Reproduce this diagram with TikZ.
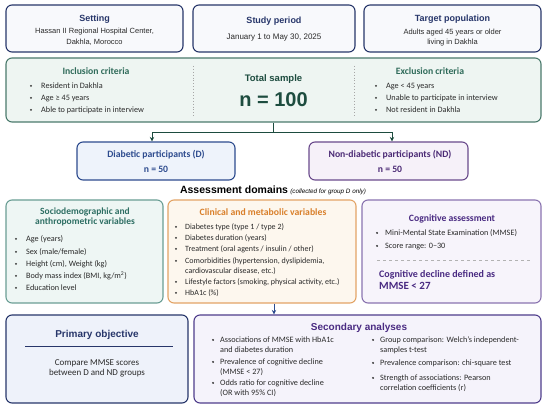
\documentclass[tikz,border=0pt]{standalone}
\usepackage{fontspec}
\setmainfont{Carlito}
\newfontfamily\headfont{Liberation Sans}
\usetikzlibrary{arrows.meta,positioning}

\definecolor{navy}{HTML}{27366A}
\definecolor{topfill}{HTML}{F8F9FC}
\definecolor{gline}{HTML}{4A7A6C}
\definecolor{gfill}{HTML}{EEF5F2}
\definecolor{gtext}{HTML}{2F6B5A}
\definecolor{gdark}{HTML}{1D4C3F}
\definecolor{dline}{HTML}{2D4B8E}
\definecolor{dfill}{HTML}{EEF3FB}
\definecolor{ndline}{HTML}{6A4A8C}
\definecolor{ndfill}{HTML}{F6F1F9}
\definecolor{ndtext}{HTML}{4B2A75}
\definecolor{sline}{HTML}{6A9E94}
\definecolor{sfill}{HTML}{EEF6F4}
\definecolor{stext}{HTML}{2D6E63}
\definecolor{cline}{HTML}{E3A466}
\definecolor{cfill}{HTML}{FDF7EE}
\definecolor{ctext}{HTML}{D97F2A}
\definecolor{kline}{HTML}{8A74B0}
\definecolor{kfill}{HTML}{F7F4FB}
\definecolor{ktext}{HTML}{4A2B82}
\definecolor{pfill}{HTML}{EEF2FA}
\definecolor{secline}{HTML}{4F3D8C}
\definecolor{secfill}{HTML}{F5F3FB}
\definecolor{ink}{HTML}{2A2A2A}

\begin{document}
\begin{tikzpicture}[x=1pt, y=-1pt,
    box/.style={draw, rounded corners=6pt, line width=1.1pt, inner sep=0pt},
    head/.style={font={\headfont\bfseries\fontsize{9}{10}\selectfont}, text=navy, anchor=base, inner sep=0pt},
    toptxt/.style={font={\headfont\fontsize{7.5}{10}\selectfont}, text=ink, anchor=base, inner sep=0pt},
    sub/.style={font={\bfseries\fontsize{9.7}{10}\selectfont}, anchor=base, inner sep=0pt},
    item/.style={font={\fontsize{8.2}{9.6}\selectfont}, text=ink, anchor=base west, inner sep=0pt},
    dot/.style={circle, fill=ink, inner sep=0pt, minimum size=2.2pt},
    link/.style={draw=gdark, line width=1pt},
    tip/.style={-{Stealth[length=4.5pt,width=4.5pt]}}]

\useasboundingbox[fill=white] (0,0) rectangle (550,409);

% top row
\node[box, draw=navy, fill=topfill, minimum width=177pt, minimum height=47pt] (setting) at (94.5,28.5) {};
\node[box, draw=navy, fill=topfill, minimum width=162pt, minimum height=47pt] (period) at (274,28.5) {};
\node[box, draw=navy, fill=topfill, minimum width=177pt, minimum height=47pt] (target) at (452.5,28.5) {};

\node[head] (settingT) at (94.5,22) {Setting};
\node[toptxt] (settingA) at (94.5,33.5) {Hassan II Regional Hospital Center,};
\node[toptxt] (settingB) at (94.5,44.5) {Dakhla, Morocco};
\node[head] (periodT) at (274,24) {Study period};
\node[toptxt, font={\headfont\fontsize{8}{10}\selectfont}] (periodA) at (274,39.5) {January 1 to May 30, 2025};
\node[head] (targetT) at (452.5,22) {Target population};
\node[toptxt] (targetA) at (452.5,34.5) {Adults aged 45 years or older};
\node[toptxt] (targetB) at (452.5,44.5) {living in Dakhla};

% sample box
\node[box, draw=gline, fill=gfill, minimum width=535pt, minimum height=64pt] (sample) at (273.5,90) {};
\draw[dotted, line width=0.9pt, gray!70] (193,66) -- (193,116);
\draw[dotted, line width=0.9pt, gray!70] (354,66) -- (354,116);

\node[sub, text=gtext] (incT) at (96,74.5) {Inclusion criteria};
\foreach \y/\t [count=\i] in {88.5/Resident in Dakhla, 100.5/Age ≥ 45 years, 112.5/Able to participate in interview}
{
  \node[dot] (incb\i) at (31,\y-2.6) {};
  \node[item] (inc\i) at (41,\y) {\t};
}

\node[head, text=gdark, font={\headfont\bfseries\fontsize{9.5}{11}\selectfont}] (totT) at (273.5,81.5) {Total sample};
\node[head, text=gdark, font={\headfont\bfseries\fontsize{20}{22}\selectfont}] (ntot) at (273.5,107) {n = 100};

\node[sub, text=gtext] (excT) at (430,74.5) {Exclusion criteria};
\foreach \y/\t [count=\i] in {88.5/Age < 45 years, 100.5/Unable to participate in interview, 112.5/Not resident in Dakhla}
{
  \node[dot] (excb\i) at (376,\y-2.6) {};
  \node[item] (exc\i) at (386,\y) {\t};
}

% groups
\node[box, draw=dline, fill=dfill, minimum width=158pt, minimum height=38pt] (diab) at (156,161) {};
\node[box, draw=ndline, fill=ndfill, minimum width=159pt, minimum height=38pt] (nondiab) at (388.5,161) {};
\node[sub, text=dline] (diabT) at (156,157.5) {Diabetic participants (D)};
\node[sub, text=dline] (diabN) at (156,172.5) {n = 50};
\node[sub, text=ndtext] (nondiabT) at (390,157.5) {Non-diabetic participants (ND)};
\node[sub, text=ndtext] (nondiabN) at (390,172.5) {n = 50};

\draw[link] (sample.south) -- ++(0,10) coordinate (split);
\draw[link, tip] (split) -| ([xshift=-4pt]diab.north);
\draw[link, tip] (split) -| ([xshift=3.5pt]nondiab.north);

\node[anchor=base, inner sep=0pt] (assess) at (273,193.5)
  {{\headfont\bfseries\fontsize{10.5}{12}\selectfont Assessment domains} {\headfont\itshape\fontsize{6.3}{8}\selectfont (collected for group D only)}};

% domains
\node[box, draw=sline, fill=sfill, minimum width=157pt, minimum height=103pt] (socio) at (84.5,251.5) {};
\node[box, draw=cline, fill=cfill, minimum width=188pt, minimum height=103pt] (clin) at (262,251.5) {};
\node[box, draw=kline, fill=kfill, minimum width=179pt, minimum height=103pt] (cog) at (451.5,251.5) {};

\node[sub, text=stext, align=center, anchor=center, font={\bfseries\fontsize{9.5}{10.5}\selectfont}] (socioT) at (85,217) {Sociodemographic and\\anthropometric variables};
\foreach \y/\t [count=\i] in {241.5/{Age (years)}, 254.5/{Sex (male/female)}, 266.5/{Height (cm), Weight (kg)}, 278.5/{Body mass index (BMI, kg/m\textsuperscript{2})}, 290.5/{Education level}}
{
  \node[dot] (sociob\i) at (16,\y-2.6) {};
  \node[item] (socio\i) at (26,\y) {\t};
}

\node[sub, text=ctext] (clinT) at (263,215.5) {Clinical and metabolic variables};
\foreach \y/\t [count=\i] in {229.5/{Diabetes type (type 1 / type 2)}, 240.5/{Diabetes duration (years)}, 251.5/{Treatment (oral agents / insulin / other)}, 263.5/{Comorbidities (hypertension, dyslipidemia,}, 273.5/{cardiovascular disease, etc.)}, 284.5/{Lifestyle factors (smoking, physical activity, etc.)}, 295.5/{HbA1c (\%)}}
  \node[item, font={\fontsize{8}{9.6}\selectfont}] (clin\i) at (185,\y) {\t};
\foreach \y [count=\i] in {229.5,240.5,251.5,263.5,284.5,295.5}
  \node[dot] (clinb\i) at (176,\y-2.6) {};

\node[sub, text=ktext] (cogT) at (452,221.5) {Cognitive assessment};
\foreach \y/\t [count=\i] in {235.5/{Mini-Mental State Examination (MMSE)}, 248.5/{Score range: 0--30}}
{
  \node[dot] (cogb\i) at (377,\y-2.6) {};
  \node[item] (cog\i) at (385,\y) {\t};
}
\draw[dashed, line width=0.6pt, gray!60] (377,260) -- (530,260);
\node[sub, text=ktext, anchor=base west, font={\bfseries\fontsize{10}{11}\selectfont}] (declA) at (379,278) {Cognitive decline defined as};
\node[sub, text=ktext, anchor=base west, font={\bfseries\fontsize{11}{12}\selectfont}] (declB) at (379,290) {MMSE < 27};

% objectives
\node[box, draw=navy, fill=pfill, minimum width=182pt, minimum height=88pt] (prim) at (97,359) {};
\node[box, draw=secline, fill=secfill, minimum width=347pt, minimum height=88pt] (sec) at (367.5,359) {};

\draw[draw=dline, line width=1pt, tip] ([xshift=12pt]clin.south) -- ([xshift=12pt]clin.south |- sec.north);

\node[head, font={\headfont\bfseries\fontsize{10}{12}\selectfont}] (primT) at (97,337.5) {Primary objective};
\draw[navy, line width=1pt] (25,347) -- (173,347);
\node[anchor=base, inner sep=0pt, text=ink, font={\fontsize{9}{10}\selectfont}] (primA) at (97,365.5) {Compare MMSE scores};
\node[anchor=base, inner sep=0pt, text=ink, font={\fontsize{9}{10}\selectfont}] (primB) at (97,375.5) {between D and ND groups};

\node[head, text=ktext, font={\headfont\bfseries\fontsize{10}{12}\selectfont}] (secT) at (359,330.5) {Secondary analyses};
\foreach \y/\t [count=\i] in {342.5/{Associations of MMSE with HbA1c}, 352.5/{and diabetes duration}, 364.5/{Prevalence of cognitive decline}, 374.5/{(MMSE < 27)}, 385.5/{Odds ratio for cognitive decline}, 395.5/{(OR with 95\% CI)}}
  \node[item] (secl\i) at (220,\y) {\t};
\foreach \y [count=\i] in {342.5,364.5,385.5}
  \node[dot] (seclb\i) at (213,\y-2.6) {};
\foreach \y/\t [count=\i] in {342.5/{Group comparison: Welch's independent-}, 352.5/{samples t-test}, 365.5/{Prevalence comparison: chi-square test}, 380.5/{Strength of associations: Pearson}, 390.5/{correlation coefficients (r)}}
  \node[item] (secr\i) at (380,\y) {\t};
\foreach \y [count=\i] in {342.5,365.5,380.5}
  \node[dot] (secrb\i) at (373,\y-2.6) {};

\end{tikzpicture}
\end{document}
